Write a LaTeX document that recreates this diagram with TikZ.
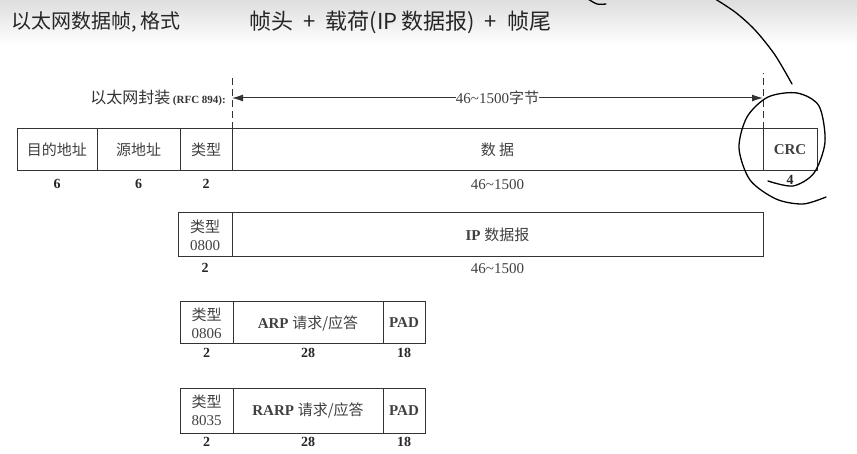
\documentclass[tikz,border=0pt]{standalone}
\usepackage{fontspec}
\setmainfont{Liberation Serif}
\newfontfamily\zh{Noto Sans CJK SC}
\usetikzlibrary{positioning,arrows.meta}

\tikzset{
  field/.style={draw=black!80, line width=1pt, minimum height=42, inner sep=0pt, outer sep=0pt,
    text=black!75, align=center, font=\fontsize{15}{19}\selectfont},
  typefield/.style={field, font=\fontsize{15}{18}\selectfont},
  size/.style={text=black!85, inner sep=0pt, font=\bfseries\fontsize{14}{16}\selectfont},
  len/.style={text=black!75, inner sep=0pt, font=\fontsize{15}{17}\selectfont},
  heading/.style={anchor=west, text=black!85, font=\zh\fontsize{22}{24}\selectfont},
  pen/.style={line width=1.3pt, line cap=round},
}

\begin{document}
\begin{tikzpicture}[x=1pt, y=-1pt]
    \useasboundingbox (0,0) rectangle (857,454);
    \shade[top color=black!13, bottom color=white] (0,0) rectangle (857,45);

    \node[heading, font=\zh\fontsize{20}{24}\selectfont] (title) at (8,22) {以太网数据帧,\hspace{3pt}格式};
    \node[heading] (parts) at (246,22)
        {帧头\hspace{10pt}+\hspace{10pt}载荷(IP\hspace{4pt}数据报)\hspace{10pt}+\hspace{10pt}帧尾};

    % ethernet frame
    \node[field, minimum width=80] (dst) at (57,150) {\zh 目的地址};
    \node[field, minimum width=83, right=0pt of dst] (src) {\zh 源地址};
    \node[field, minimum width=52, right=0pt of src] (type) {\zh 类型};
    \node[field, minimum width=531, right=0pt of type] (data) {\zh 数\ 据};
    \node[field, minimum width=54, right=0pt of data] (crc) {\textbf{CRC}};

    \node[size, below=8pt of dst] (ndst) {6};
    \node[size, below=8pt of src] (nsrc) {6};
    \node[size, below=8pt of type] (ntype) {2};
    \node[len, below=8pt of data] (ndata) {46\textasciitilde1500};
    \node[size, below=4pt of crc] (ncrc) {4};

    % encapsulation span
    \coordinate (ltop) at (232,76);
    \coordinate (rtop) at (763,73);
    \coordinate (al) at (232,98);
    \coordinate (ar) at (763,98);
    \draw[dashed, dash pattern=on 7pt off 4pt, line width=1pt, black!80] (data.north west) -- (ltop);
    \draw[dashed, dash pattern=on 7pt off 4pt, line width=1pt, black!80] (crc.north west) -- (rtop);
    \draw[{Latex[length=11pt,width=7pt]}-{Latex[length=11pt,width=7pt]}, line width=1pt, black!80]
        (al) -- node[fill=white, inner sep=5pt, len] (span) {46\textasciitilde1500{\zh 字节}} (ar);
    \node[anchor=east, text=black!80, inner sep=0pt] (rfc) at (226,98)
        {{\zh\fontsize{16}{18}\selectfont 以太网封装} {\bfseries\fontsize{11}{13}\selectfont (RFC 894):}};

    % IP datagram
    \node[typefield, minimum width=54, minimum height=44] (t0800) at (205,235) {{\zh 类型}\\0800};
    \node[field, minimum width=531, minimum height=44, right=0pt of t0800] (ip) {\textbf{IP} {\zh 数据报}};
    \node[size, below=6pt of t0800] (n0800) {2};
    \node[len, below=6pt of ip] (nip) {46\textasciitilde1500};

    % ARP
    \node[typefield, minimum width=53] (t0806) at (206.5,323) {{\zh 类型}\\0806};
    \node[field, minimum width=150, right=0pt of t0806] (arp) {\textbf{ARP} {\zh 请求/应答}};
    \node[field, minimum width=42, right=0pt of arp] (pad1) {\textbf{PAD}};
    \node[size, below=4pt of t0806] (n0806) {2};
    \node[size, below=4pt of arp] (narp) {28};
    \node[size, below=4pt of pad1] (npad1) {18};

    % RARP
    \node[typefield, minimum width=53, minimum height=45] (t8035) at (206.5,410.5) {{\zh 类型}\\8035};
    \node[field, minimum width=150, minimum height=45, right=0pt of t8035] (rarp) {\textbf{RARP} {\zh 请求/应答}};
    \node[field, minimum width=42, minimum height=45, right=0pt of rarp] (pad2) {\textbf{PAD}};
    \node[size, below=4pt of t8035] (n8035) {2};
    \node[size, below=4pt of rarp] (nrarp) {28};
    \node[size, below=4pt of pad2] (npad2) {18};

    % hand marks round the CRC
    \draw[pen] plot[smooth] coordinates {(768,181) (793,186) (814,173) (825,142) (819,106) (797,93)
        (768,97) (747,117) (739,148) (750,180) (776,199) (803,204) (826,197)};
    \draw[pen] plot[smooth] coordinates {(712,-3) (735,12) (755,30) (775,55) (792,84)};
    \draw[pen] plot[smooth] coordinates {(588,-1) (597,4) (606,4)};
\end{tikzpicture}
\end{document}
